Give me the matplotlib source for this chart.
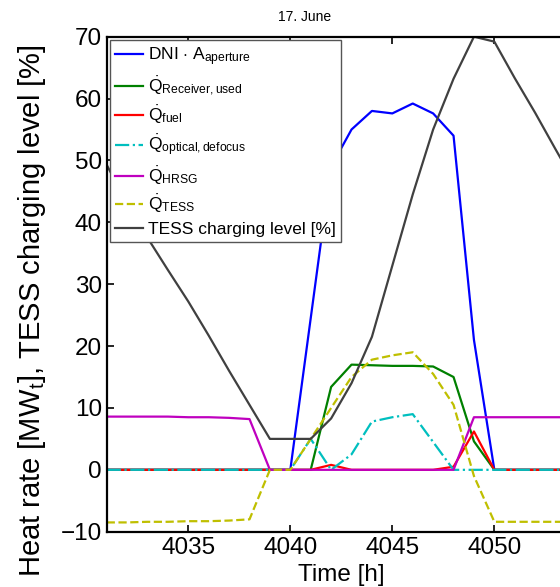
import matplotlib
matplotlib.use("Agg")
import matplotlib.pyplot as plt

plt.rcParams['font.family'] = ['Liberation Sans', 'DejaVu Sans']
plt.rcParams['mathtext.fontset'] = 'custom'
plt.rcParams['mathtext.rm'] = 'Liberation Sans'
plt.rcParams['mathtext.it'] = 'Liberation Sans:italic'
plt.rcParams['mathtext.bf'] = 'Liberation Sans:bold'

# hours on 17. June
hours = list(range(4031, 4056))

# values, one per hour
dni_aperture = [0, 0, 0, 0, 0, 0, 0, 0, 0, 0, 24.5, 49, 55, 58, 57.6, 59.2, 57.6, 54, 21,
                0, 0, 0, 0, 0, 0]
q_receiver = [0, 0, 0, 0, 0, 0, 0, 0, 0, 0, 0, 13.4, 17, 16.9, 16.8, 16.8, 16.7, 15, 4.6,
              0, 0, 0, 0, 0, 0]
q_fuel = [0, 0, 0, 0, 0, 0, 0, 0, 0, 0, 0, 0.8, 0, 0, 0, 0, 0, 0.5, 6.2,
          0, 0, 0, 0, 0, 0]
q_defocus = [0, 0, 0, 0, 0, 0, 0, 0, 0, 0, 5.0, 0, 2.5, 7.8, 8.5, 9.0, 4.5, 0, 0,
             0, 0, 0, 0, 0, 0]
q_hrsg = [8.6, 8.6, 8.6, 8.6, 8.5, 8.5, 8.4, 8.2, 0, 0, 0, 0, 0, 0, 0, 0, 0, 0, 8.5,
          8.5, 8.5, 8.5, 8.5, 8.5, 8.5]
q_tess = [-8.5, -8.5, -8.4, -8.4, -8.3, -8.3, -8.2, -8.0, 0, 0, 5, 10, 15, 17.8, 18.5, 19, 15.5,
          10.5, -1, -8.4, -8.4, -8.4, -8.4, -8.4, -8.4]
tess_level = [49.3, 43, 37.5, 32.3, 27.2, 21.7, 16, 10.5, 5, 5, 5, 8.3, 14, 21.5, 33, 44.5,
              55, 63.2, 70, 69.2, 63.3, 57.7, 51.8, 46, 40]

labels = [r'DNI $\cdot$ A$_{\mathrm{aperture}}$',
          r'$\dot{\mathrm{Q}}_{\mathrm{Receiver,used}}$',
          r'$\dot{\mathrm{Q}}_{\mathrm{fuel}}$',
          r'$\dot{\mathrm{Q}}_{\mathrm{optical,defocus}}$',
          r'$\dot{\mathrm{Q}}_{\mathrm{HRSG}}$',
          r'$\dot{\mathrm{Q}}_{\mathrm{TESS}}$',
          'TESS charging level [%]']

fig = plt.figure(figsize=(5.6, 5.87), dpi=100)
# axes runs past the right edge, like the cropped original
ax = fig.add_axes([0.1905, 0.0942, 0.838, 0.8433])

lw = 1.6
ax.plot(hours, dni_aperture, color='#0000ff', lw=lw, label=labels[0])
ax.plot(hours, q_receiver, color='#008000', lw=lw, label=labels[1])
ax.plot(hours, q_fuel, color='#ff0000', lw=lw, label=labels[2])
ax.plot(hours, q_defocus, color='#00bfbf', lw=lw, ls='-.', label=labels[3])
ax.plot(hours, q_hrsg, color='#bf00bf', lw=lw, label=labels[4])
ax.plot(hours, q_tess, color='#bfbf00', lw=lw, ls='--', label=labels[5])
ax.plot(hours, tess_level, color='#404040', lw=lw, label=labels[6])

ax.set_xlim(4031, 4054)
ax.set_ylim(-10, 70)
ax.set_xticks([4035, 4040, 4045, 4050])
ax.set_yticks(range(-10, 71, 10))
ax.tick_params(direction='in', length=5, width=1.2, labelsize=17.5, top=True, right=True)
for s in ax.spines.values():
    s.set_linewidth(1.6)

ax.set_xlabel('Time [h]', fontsize=17.5, labelpad=4)
ax.set_ylabel(r'Heat rate [MW$_\mathrm{t}$], TESS charging level [%]', fontsize=21)
ax.yaxis.set_label_coords(-0.125, 0.446)
fig.text(305 / 560, 1 - 17 / 587, '17. June', ha='center', va='center', fontsize=10)

leg = ax.legend(loc='upper left', fontsize=12.5, handlelength=1.6, handletextpad=0.3,
                borderpad=0.3, labelspacing=0.36, borderaxespad=0.2, fancybox=False, framealpha=1)
leg.get_frame().set_edgecolor('#555555')
leg.get_frame().set_linewidth(1.0)

fig.savefig('out.png', dpi=100)
